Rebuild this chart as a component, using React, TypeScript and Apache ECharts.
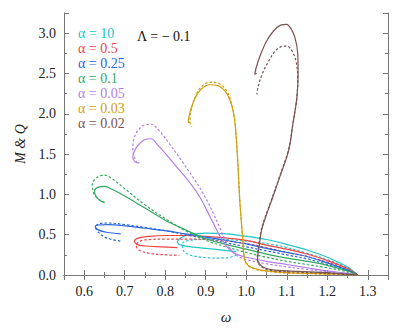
import React, { useEffect, useRef } from "react";
import * as echarts from "echarts";

const alphaLabels = ["α = 10", "α = 0.5", "α = 0.25", "α = 0.1", "α = 0.05", "α = 0.03", "α = 0.02"];
const colors = ["#22c6c9", "#f04444", "#2a66dd", "#34a863", "#b47ee6", "#d2a00e", "#7c5252"];

// solid curves (M) and dashed curves (Q): [omega, value]
const a10M = [[1.275,0],[1.25,0.1],[1.2,0.22],[1.15,0.31],[1.1,0.38],[1.05,0.44],[1.0,0.48],[0.95,0.51],[0.9,0.52],[0.86,0.5],[0.838,0.46],[0.83,0.41],[0.84,0.37],[0.87,0.345],[0.92,0.32],[0.975,0.29]];
const a10Q = [[1.275,0],[1.25,0.09],[1.2,0.19],[1.15,0.27],[1.1,0.34],[1.05,0.39],[1.0,0.42],[0.95,0.44],[0.9,0.445],[0.86,0.43],[0.842,0.39],[0.845,0.3],[0.86,0.25],[0.89,0.22],[0.93,0.21],[0.96,0.22],[0.975,0.25]];
const a05M = [[1.275,0],[1.25,0.08],[1.2,0.18],[1.15,0.26],[1.1,0.32],[1.05,0.37],[1.0,0.43],[0.95,0.46],[0.9,0.48],[0.85,0.49],[0.8,0.49],[0.76,0.48],[0.735,0.46],[0.724,0.42],[0.73,0.38],[0.75,0.36],[0.79,0.35],[0.83,0.34]];
const a05Q = [[1.275,0],[1.25,0.07],[1.2,0.16],[1.15,0.23],[1.1,0.28],[1.05,0.34],[1.0,0.39],[0.95,0.42],[0.9,0.44],[0.85,0.445],[0.8,0.445],[0.76,0.44],[0.738,0.42],[0.728,0.37],[0.735,0.31],[0.76,0.27],[0.8,0.25],[0.835,0.245]];
const a025M = [[1.275,0],[1.25,0.06],[1.2,0.15],[1.15,0.23],[1.1,0.28],[1.05,0.33],[1.0,0.385],[0.95,0.43],[0.9,0.47],[0.85,0.51],[0.8,0.55],[0.75,0.58],[0.7,0.61],[0.66,0.625],[0.635,0.62],[0.627,0.6],[0.635,0.56],[0.655,0.53],[0.69,0.51]];
const a025Q = [[1.275,0],[1.25,0.05],[1.2,0.13],[1.15,0.2],[1.1,0.25],[1.05,0.3],[1.0,0.35],[0.95,0.4],[0.9,0.45],[0.85,0.5],[0.8,0.55],[0.75,0.59],[0.7,0.625],[0.66,0.645],[0.637,0.635],[0.628,0.6],[0.635,0.53],[0.655,0.46],[0.69,0.42]];
const a01M = [[1.275,0],[1.25,0.05],[1.2,0.12],[1.15,0.17],[1.1,0.21],[1.05,0.26],[1.0,0.32],[0.95,0.38],[0.9,0.45],[0.85,0.56],[0.8,0.68],[0.75,0.83],[0.7,0.98],[0.67,1.06],[0.65,1.1],[0.635,1.09],[0.625,1.04],[0.63,0.97],[0.64,0.92],[0.65,0.9]];
const a01Q = [[1.275,0],[1.25,0.04],[1.2,0.09],[1.15,0.13],[1.1,0.17],[1.05,0.22],[1.0,0.28],[0.95,0.35],[0.9,0.43],[0.85,0.55],[0.8,0.7],[0.75,0.87],[0.7,1.07],[0.67,1.19],[0.65,1.24],[0.632,1.21],[0.62,1.13],[0.623,1.02],[0.635,0.94],[0.65,0.9]];
const a005M = [[1.275,0],[1.25,0.02],[1.2,0.05],[1.15,0.09],[1.1,0.13],[1.05,0.17],[1.0,0.22],[0.975,0.26],[0.958,0.32],[0.945,0.4],[0.93,0.53],[0.91,0.73],[0.885,0.97],[0.86,1.15],[0.83,1.33],[0.8,1.51],[0.78,1.62],[0.765,1.69],[0.75,1.68],[0.735,1.62],[0.723,1.53],[0.72,1.46],[0.726,1.4],[0.736,1.39]];
const a005Q = [[1.275,0],[1.25,0.015],[1.2,0.04],[1.15,0.07],[1.1,0.1],[1.05,0.14],[1.0,0.19],[0.98,0.23],[0.965,0.3],[0.952,0.4],[0.938,0.55],[0.92,0.75],[0.895,1.0],[0.87,1.2],[0.84,1.42],[0.81,1.63],[0.785,1.79],[0.765,1.87],[0.748,1.86],[0.732,1.79],[0.722,1.68],[0.72,1.56],[0.724,1.46],[0.73,1.39]];
const a003M = [[1.275,0],[1.2,0.015],[1.1,0.03],[1.05,0.05],[1.02,0.08],[1.005,0.12],[0.996,0.19],[0.991,0.47],[0.984,0.93],[0.978,1.5],[0.971,1.93],[0.962,2.14],[0.948,2.28],[0.93,2.35],[0.909,2.36],[0.89,2.31],[0.875,2.21],[0.864,2.07],[0.858,1.95],[0.857,1.89],[0.861,1.9]];
const a003Q = [[1.275,0],[1.2,0.01],[1.1,0.025],[1.05,0.045],[1.02,0.075],[1.005,0.115],[0.996,0.19],[0.991,0.47],[0.984,0.93],[0.978,1.5],[0.971,1.94],[0.962,2.16],[0.948,2.31],[0.93,2.38],[0.909,2.39],[0.89,2.34],[0.876,2.23],[0.866,2.08],[0.861,1.95],[0.862,1.87],[0.866,1.84]];
const a002M = [[1.275,0],[1.2,0.03],[1.13,0.045],[1.07,0.06],[1.045,0.09],[1.032,0.14],[1.028,0.2],[1.03,0.3],[1.033,0.4],[1.038,0.56],[1.05,0.75],[1.063,0.93],[1.083,1.22],[1.105,1.55],[1.115,1.87],[1.125,2.2],[1.128,2.5],[1.127,2.75],[1.12,2.95],[1.11,3.06],[1.1,3.11],[1.085,3.1],[1.068,3.03],[1.05,2.9],[1.035,2.73],[1.025,2.58],[1.021,2.49],[1.026,2.5]];
const a002Q = [[1.275,0],[1.2,0.02],[1.13,0.035],[1.07,0.05],[1.045,0.08],[1.032,0.13],[1.027,0.2],[1.029,0.3],[1.032,0.4],[1.037,0.56],[1.049,0.75],[1.062,0.93],[1.082,1.22],[1.104,1.55],[1.115,1.87],[1.125,2.2],[1.127,2.45],[1.123,2.65],[1.113,2.78],[1.1,2.84],[1.085,2.83],[1.07,2.77],[1.055,2.65],[1.04,2.5],[1.03,2.35],[1.026,2.24]];

const solidSets = [a10M, a05M, a025M, a01M, a005M, a003M, a002M];
const dashedSets = [a10Q, a05Q, a025Q, a01Q, a005Q, a003Q, a002Q];
const lambdaText = "Λ = − 0.1";

const FONT = "'Liberation Serif', 'Times New Roman', 'DejaVu Serif', serif";

export default function App() {
  const ref = useRef<HTMLDivElement>(null);
  useEffect(() => {
    const chart = echarts.init(ref.current!, null, { renderer: "svg" });
    const frame = { show: true, lineStyle: { color: "#777", width: 1 } };
    const majorX = (pos: string, labels: boolean) => ({
      type: "value", position: pos, min: 0.55, max: 1.35, splitNumber: 8,
      axisLine: frame,
      axisTick: { show: true, inside: true, length: 5, lineStyle: { color: "#777" } },
      axisLabel: labels ? {
        show: true, margin: 9, color: "#222", fontFamily: FONT, fontSize: 14,
        formatter: (v: number) => Math.abs(v * 10 - Math.round(v * 10)) < 1e-6 ? v.toFixed(1) : "",
      } : { show: false },
      splitLine: { show: false },
      ...(labels ? { name: "ω", nameLocation: "middle", nameGap: 34, nameTextStyle: { fontFamily: FONT, fontStyle: "italic", fontSize: 15, color: "#222" } } : {}),
    });
    const minorX = (pos: string) => ({
      type: "value", position: pos, min: 0.55, max: 1.35, interval: 0.05,
      axisLine: { show: false },
      axisTick: { show: true, inside: true, length: 3, lineStyle: { color: "#777" } },
      axisLabel: { show: false }, splitLine: { show: false },
    });
    const majorY = (pos: string, labels: boolean) => ({
      type: "value", position: pos, min: 0, max: 3.25, interval: 0.5,
      axisLine: frame,
      axisTick: { show: true, inside: true, length: 5, lineStyle: { color: "#777" } },
      axisLabel: labels ? {
        show: true, margin: 8, color: "#222", fontFamily: FONT, fontSize: 14,
        formatter: (v: number) => Math.abs(v * 2 - Math.round(v * 2)) < 1e-6 && v <= 3.0001 ? v.toFixed(1) : "",
      } : { show: false },
      splitLine: { show: false },
      ...(labels ? { name: "M & Q", nameLocation: "middle", nameGap: 31, nameRotate: 90, nameTextStyle: { fontFamily: FONT, fontStyle: "italic", fontSize: 14, color: "#222" } } : {}),
    });
    const minorY = (pos: string) => ({
      type: "value", position: pos, min: 0, max: 3.25, interval: 0.25,
      axisLine: { show: false },
      axisTick: { show: true, inside: true, length: 3, lineStyle: { color: "#777" } },
      axisLabel: { show: false }, splitLine: { show: false },
    });

    const series: any[] = [];
    solidSets.forEach((d, i) => {
      series.push({
        type: "line", data: d, showSymbol: false, smooth: 0.35, xAxisIndex: 0, yAxisIndex: 0,
        lineStyle: { color: colors[i], width: 1.2 }, z: 2,
      });
      series.push({
        type: "line", data: dashedSets[i], showSymbol: false, smooth: 0.35, xAxisIndex: 0, yAxisIndex: 0,
        lineStyle: { color: colors[i], width: 1.2, type: [2.5, 2] }, z: 2,
      });
    });

    const graphics: any[] = alphaLabels.map((t, i) => ({
      type: "text", left: 78, top: 26 + i * 15,
      style: { text: t, fill: colors[i], fontFamily: FONT, fontSize: 14 },
    }));
    graphics.push({ type: "text", left: 137, top: 29, style: { text: lambdaText, fill: "#111", fontFamily: FONT, fontSize: 14 } });

    chart.setOption({
      animation: false,
      grid: { left: 64, right: 19, top: 13, bottom: 58, containLabel: false },
      xAxis: [majorX("bottom", true), minorX("bottom"), majorX("top", false), minorX("top")],
      yAxis: [majorY("left", true), minorY("left"), majorY("right", false), minorY("right")],
      series,
      graphic: graphics,
    });
    return () => chart.dispose();
  }, []);
  return <div ref={ref} style={{ position: "fixed", left: 0, top: 0, width: 407, height: 333, background: "#fff" }} />;
}
